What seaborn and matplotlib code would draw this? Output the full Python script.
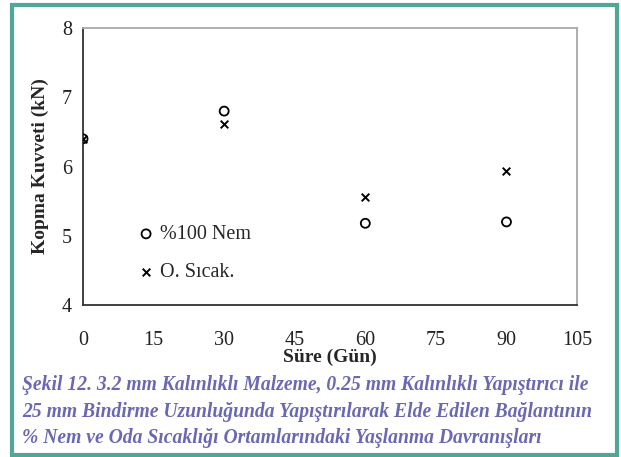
import numpy as np
import pandas as pd
import seaborn as sns
import matplotlib.pyplot as plt
from matplotlib.patches import Rectangle

# data
gun = [0, 30, 60, 90]
nem100 = [6.4, 6.8, 5.18, 5.2]
oda_sicak = [6.4, 6.61, 5.56, 5.93]

x_ticks = [0, 15, 30, 45, 60, 75, 90, 105]
y_ticks = [4, 5, 6, 7, 8]

sns.set_style("white")
plt.rcParams['font.family'] = ['Liberation Serif', 'DejaVu Serif']

fig = plt.figure(figsize=(6.21, 4.57), dpi=100)
ax = fig.add_axes([0.1337, 0.3326, 0.7955, 0.6061])

sns.scatterplot(x=gun, y=nem100, ax=ax, marker='o', s=42,
                facecolor='none', edgecolor='black', linewidth=1.3,
                label='%100 Nem', zorder=3)
sns.scatterplot(x=gun, y=oda_sicak, ax=ax, marker='x', s=30,
                color='black', linewidth=1.4, label='O. Sıcak.', zorder=3)

ax.set_xlim(0, 105)
ax.set_ylim(4, 8)
ax.set_xticks(x_ticks)
ax.set_yticks(y_ticks)
ax.tick_params(axis='both', direction='out', length=5, width=1,
               labelsize=14.5, colors='#222222')
ax.tick_params(axis='y', pad=3)
ax.tick_params(axis='x', pad=14)

for s in ['left', 'bottom']:
    ax.spines[s].set_color('#333333')
    ax.spines[s].set_linewidth(1.3)
for s in ['top', 'right']:
    ax.spines[s].set_color('#a8a8a8')
    ax.spines[s].set_linewidth(1.3)

ax.set_xlabel('Süre (Gün)', fontsize=14, fontweight='bold', labelpad=-1)
ax.set_ylabel('Kopma Kuvveti (kN)', fontsize=14, fontweight='bold', labelpad=9)

ax.legend(loc='upper left', bbox_to_anchor=(0.095, 0.325), frameon=False,
          fontsize=14.5, handlelength=0.6, handletextpad=0.4,
          labelspacing=0.95, borderpad=0)

cap = ['Şekil 12. 3.2 mm Kalınlıklı Malzeme, 0.25 mm Kalınlıklı Yapıştırıcı ile',
       '25 mm Bindirme Uzunluğunda Yapıştırılarak Elde Edilen Bağlantının',
       '% Nem ve Oda Sıcaklığı Ortamlarındaki Yaşlanma Davranışları']
for i, line in enumerate(cap):
    fig.text(22 / 621, 1 - (385 + i * 26.5) / 457, line, fontsize=14.1,
             fontweight='bold', fontstyle='italic', color='#6a68b2',
             va='center', ha='left')

fig.patches.append(Rectangle((11.5 / 621, 2.5 / 457), 605.5 / 621, 450 / 457,
                             transform=fig.transFigure, fill=False,
                             edgecolor='#4fa895', linewidth=3))

fig.savefig('out.png', dpi=100)
